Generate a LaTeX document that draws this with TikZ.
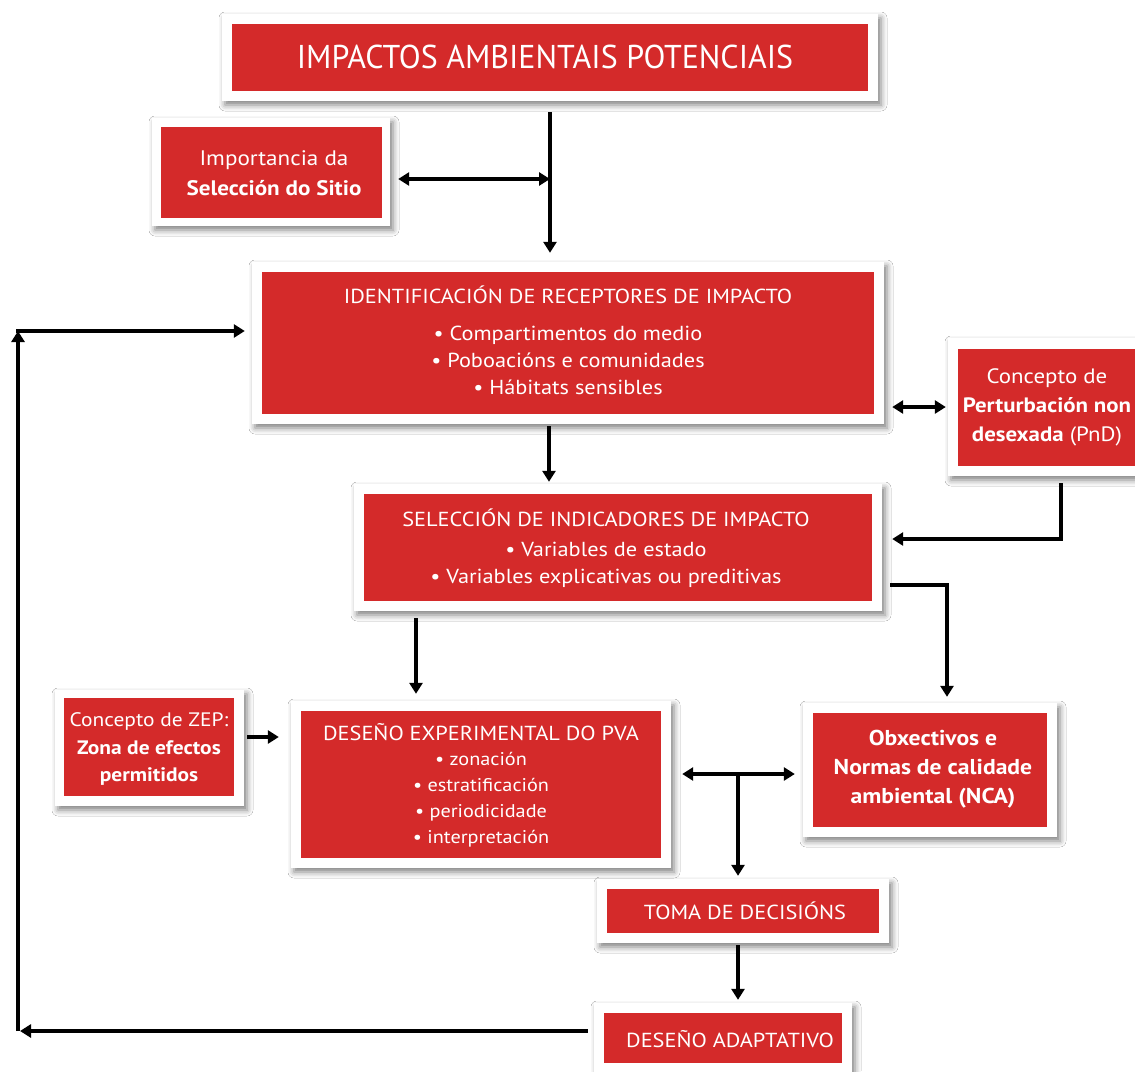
\documentclass[tikz,border=0pt]{standalone}
\usepackage{fontspec}
\setmainfont{PT Sans}[FakeStretch=1.1]
\newfontfamily\condfont[FakeStretch=0.97]{PT Sans}
\usetikzlibrary{arrows.meta,shadows.blur,fit}
\definecolor{boxred}{RGB}{212,42,42}
\tikzset{
  frame/.style={fill=white, draw=none, inner sep=0pt,
    blur shadow={shadow xshift=3pt, shadow yshift=-4pt, shadow blur radius=6pt, shadow opacity=50}},
  redbox/.style={fill=boxred, draw=none, inner sep=0pt},
  txt/.style={text=white, align=center, inner sep=0pt, font=\fontsize{20.3}{27}\selectfont},
  arr/.style={line width=3.6pt, -{Triangle[length=11pt,width=13pt]}},
  darr/.style={line width=3.6pt, {Triangle[length=11pt,width=13pt]}-{Triangle[length=11pt,width=13pt]}}
}
\begin{document}
\begin{tikzpicture}[x=1pt,y=-1pt]
\useasboundingbox (0,0) rectangle (1135,1071);
\fill[white] (0,0) rectangle (1135,1071);

% top
\node[frame, fit={(222,14)(878,101)}] (topf) {};
\node[redbox, fit={(232,24)(868,91)}] (topr) {};
\node[txt, font=\condfont\fontsize{33}{40}\selectfont] (topt) at (545,57) {IMPACTOS AMBIENTAIS POTENCIAIS};

% sitio
\node[frame, fit={(152,118)(390,226)}] (sitf) {};
\node[redbox, fit={(161,127)(382,218)}] (sitr) {};
\node[txt, font=\fontsize{21}{30}\selectfont] (sitt) at (274,173) {Importancia da\\\textbf{Selección do Sitio}};

% identificacion
\node[frame, fit={(252,262)(884,424)}] (idf) {};
\node[redbox, fit={(262,272)(874,414)}] (idr) {};
\node[txt] (idh) at (568,295) {IDENTIFICACIÓN DE RECEPTORES DE IMPACTO};
\node[txt] (idb) at (568,360) {• Compartimentos do medio\\• Poboacións e comunidades\\• Hábitats sensibles};

% PnD
\node[frame, fit={(948,338)(1150,476)}] (pndf) {};
\node[redbox, fit={(958,349)(1140,466)}] (pndr) {};
\node[txt, font=\fontsize{20.8}{29}\selectfont] (pndt) at (1047,407) {Concepto de\\\textbf{Perturbación non}\\\textbf{desexada} (PnD)};

% seleccion indicadores
\node[frame, fit={(354,484)(882,611)}] (self) {};
\node[redbox, fit={(364,494)(872,601)}] (selr) {};
\node[txt] (selh) at (606,518) {SELECCIÓN DE INDICADORES DE IMPACTO};
\node[txt] (selb) at (606,565) {• Variables de estado\\• Variables explicativas ou preditivas};

% ZEP
\node[frame, fit={(55,690)(244,806)}] (zepf) {};
\node[redbox, fit={(64,698)(234,796)}] (zepr) {};
\node[txt, font=\fontsize{19.5}{27.5}\selectfont] (zept) at (149,749) {Concepto de ZEP:\\\textbf{Zona de efectos}\\\textbf{permitidos}};

% deseno experimental
\node[frame, fit={(291,701)(671,868)}] (expf) {};
\node[redbox, fit={(301,711)(661,858)}] (expr) {};
\node[txt] (exph) at (481,732) {DESEÑO EXPERIMENTAL DO PVA};
\node[txt, font=\fontsize{18.4}{26}\selectfont] (expb) at (481,800) {• zonación\\• estratificación\\• periodicidade\\• interpretación};

% NCA
\node[frame, fit={(803,703)(1057,837)}] (ncaf) {};
\node[redbox, fit={(813,713)(1047,827)}] (ncar) {};
\node[txt, font=\bfseries\fontsize{21.5}{29}\selectfont] (ncat) at (933,769) {Obxectivos e\\Normas de calidade\\ambiental (NCA)};

% toma
\node[frame, fit={(597,879)(889,943)}] (tomaf) {};
\node[redbox, fit={(607,889)(879,933)}] (tomar) {};
\node[txt] (tomat) at (745,911) {TOMA DE DECISIÓNS};

% adaptativo
\node[frame, fit={(594,1003)(852,1080)}] (adf) {};
\node[redbox, fit={(604,1013)(842,1063)}] (adr) {};
\node[txt] (adt) at (730,1039) {DESEÑO ADAPTATIVO};

% helper coordinates
\coordinate (xa) at (550,0);
\coordinate (xb) at (549,0);
\coordinate (xc) at (416,0);
\coordinate (xd) at (947,0);
\coordinate (xe) at (1061,0);
\coordinate (xf) at (738,0);
\coordinate (xl) at (18,0);
\coordinate (ys) at (0,179);
\coordinate (yp) at (0,539);
\coordinate (yq) at (0,585);
\coordinate (yz) at (0,737);
\coordinate (yn) at (0,774);
\coordinate (yd) at (0,1031);
\coordinate (yi) at (0,331);
\coordinate (yr) at (0,407);

% connectors
\draw[arr] ([yshift=-11pt]topf.south -| xa) -- ([yshift=9pt]idf.north -| xa);
\draw[darr] ([xshift=8pt]sitf.east |- ys) -- (xa |- ys);
\draw[arr] ([yshift=-2pt]idf.south -| xb) -- ([yshift=2pt]self.north -| xb);
\draw[darr] ([xshift=8pt]idf.east |- yr) -- ([xshift=-2pt]pndf.west |- yr);
\draw[arr] ([yshift=-7pt]pndf.south -| xe) -- (xe |- yp) -- ([xshift=10pt]self.east |- yp);
\draw[arr] ([xshift=8pt]self.east |- yq) -- (xd |- yq) -- ([yshift=6pt]ncaf.north -| xd);
\draw[arr] ([yshift=-7pt]self.south -| xc) -- ([yshift=7pt]expf.north -| xc);
\draw[arr] ([xshift=3pt]zepf.east |- yz) -- ([xshift=-12pt]expf.west |- yz);
\draw[darr] ([xshift=11pt]expf.east |- yn) -- ([xshift=-8pt]ncaf.west |- yn);
\draw[arr] (xf |- yn) -- ([yshift=3pt]tomaf.north -| xf);
\draw[arr] ([yshift=-2pt]tomaf.south -| xf) -- ([yshift=3pt]adf.north -| xf);
\draw[arr] ([xshift=-6pt]adf.west |- yd) -- ([xshift=2pt]xl |- yd);
\draw[arr] (xl |- yd) -- (xl |- yi);
\draw[arr] ([xshift=-1.8pt]xl |- yi) -- ([xshift=-7pt]idf.west |- yi);
\end{tikzpicture}
\end{document}
